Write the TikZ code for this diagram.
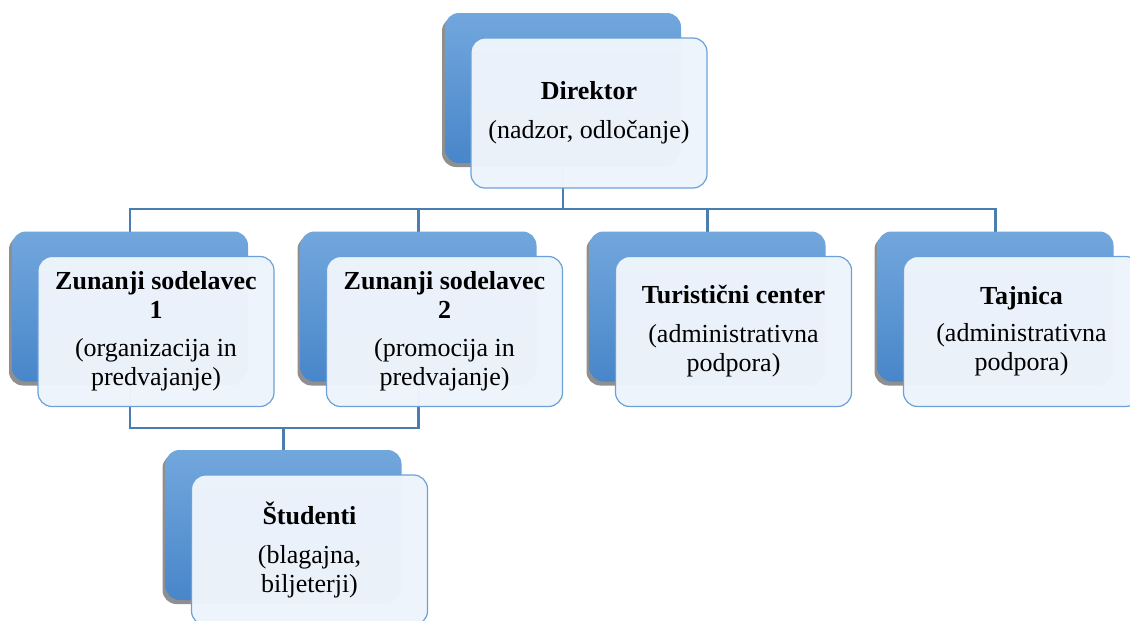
\documentclass[tikz,border=0pt]{standalone}
\usepackage{fontspec}
\setmainfont{Liberation Serif}
\usetikzlibrary{shadows}
\definecolor{bluetop}{RGB}{114,167,221}
\definecolor{bluebot}{RGB}{72,134,202}
\definecolor{frontfill}{RGB}{238,244,251}
\definecolor{frontborder}{RGB}{108,160,216}
\definecolor{conncol}{RGB}{74,126,177}
\tikzset{
  backbox/.style={rounded corners=14pt, minimum width=236pt, minimum height=150pt,
    inner sep=0pt, draw=none, top color=bluetop, bottom color=bluebot,
    drop shadow={shadow xshift=-3pt, shadow yshift=-4pt, opacity=0.55, fill=black!80}},
  frontbox/.style={rounded corners=14pt, minimum width=236pt, minimum height=150pt,
    inner sep=4pt, draw=frontborder, line width=1.2pt, fill=frontfill,
    fill opacity=0.975, text opacity=1, align=center,
    font=\fontsize{26}{29}\selectfont},
  conn/.style={draw=conncol, line width=2.4pt}
}
\begin{document}
\begin{tikzpicture}[x=1pt,y=-1pt]
\useasboundingbox (0,0) rectangle (1130,621);
\clip (0,0) rectangle (1130,621);
\coordinate (dC) at (563,88);
\coordinate (s1C) at (130,306.5);
\coordinate (s2C) at (418.5,306.5);
\coordinate (s3C) at (707.5,306.5);
\coordinate (s4C) at (995.5,306.5);
\coordinate (stC) at (283.5,525);
\coordinate (bus) at (130,209);
\coordinate (bus2) at (130,428);
% connectors (behind boxes)
\draw[conn] (dC) -- (dC |- bus);
\draw[conn] (s1C) |- (s4C |- bus) -- (s4C);
\draw[conn] (s2C) -- (s2C |- bus);
\draw[conn] (s3C) -- (s3C |- bus);
\draw[conn] (s1C) |- (s2C |- bus2) -- (s2C);
\draw[conn] (stC |- bus2) -- (stC);
% back boxes
\node[backbox] (dB) at (dC) {};
\node[backbox] (s1B) at (s1C) {};
\node[backbox] (s2B) at (s2C) {};
\node[backbox] (s3B) at (s3C) {};
\node[backbox] (s4B) at (s4C) {};
\node[backbox] (stB) at (stC) {};
% front boxes
\node[frontbox] (d) at (589,113) {\textbf{Direktor}\\[10pt](nadzor, odločanje)};
\node[frontbox] (s1) at (156,331.5) {\textbf{Zunanji sodelavec}\\\textbf{1}\\[9pt](organizacija in\\predvajanje)};
\node[frontbox] (s2) at (444.5,331.5) {\textbf{Zunanji sodelavec}\\\textbf{2}\\[9pt](promocija in\\predvajanje)};
\node[frontbox] (s3) at (733.5,331.5) {\textbf{Turistični center}\\[10pt](administrativna\\podpora)};
\node[frontbox] (s4) at (1021.5,331.5) {\textbf{Tajnica}\\[8pt](administrativna\\podpora)};
\node[frontbox] (st) at (309.5,550) {\textbf{Študenti}\\[10pt](blagajna,\\biljeterji)};
\end{tikzpicture}
\end{document}
